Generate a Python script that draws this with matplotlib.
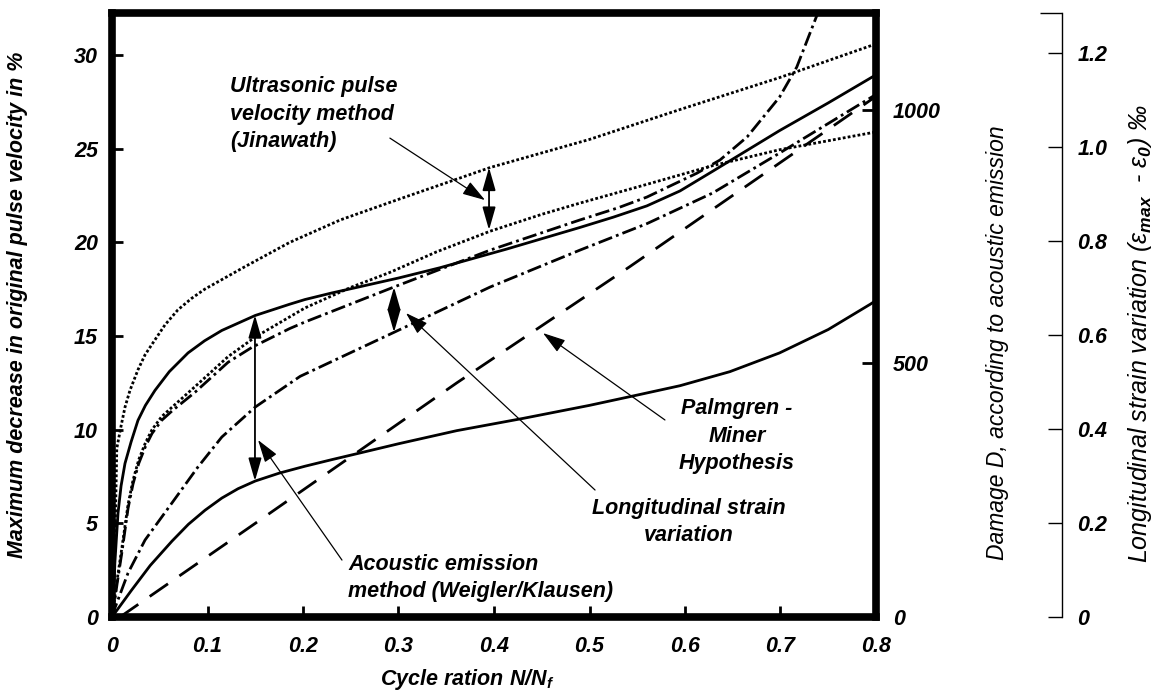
import matplotlib
matplotlib.use('Agg')
import matplotlib.pyplot as plt

plt.rcParams['font.family'] = 'Liberation Sans'
plt.rcParams['font.weight'] = 'bold'
plt.rcParams['font.style'] = 'italic'
plt.rcParams['axes.labelweight'] = 'bold'
plt.rcParams['mathtext.fontset'] = 'custom'
plt.rcParams['mathtext.rm'] = 'Liberation Sans:italic'
plt.rcParams['mathtext.it'] = 'Liberation Sans:italic'
plt.rcParams['mathtext.bf'] = 'Liberation Sans:italic:bold'

# ultrasonic pulse velocity (Jinawath), upper and lower bound, % decrease
us_hi_x = [0, 0.001, 0.003, 0.005, 0.0095, 0.0136, 0.0188, 0.0272, 0.0346, 0.045, 0.0555,
           0.069, 0.083, 0.097, 0.139, 0.186, 0.239, 0.30, 0.396, 0.50, 0.595, 0.699, 0.80]
us_hi_y = [0, 0.2, 3.7, 9.0, 10.2, 11.2, 12.1, 13.2, 14.0, 14.8, 15.6,
           16.4, 17.0, 17.5, 18.7, 20.0, 21.2, 22.3, 24.0, 25.5, 27.1, 28.8, 30.6]
us_lo_x = [0, 0.002, 0.006, 0.0105, 0.0168, 0.022, 0.028, 0.035, 0.0419, 0.052, 0.0628, 0.0869,
           0.1215, 0.150, 0.202, 0.25, 0.291, 0.34, 0.396, 0.45, 0.49, 0.56, 0.629, 0.699, 0.80]
us_lo_y = [0, 0.7, 2.2, 3.74, 6.0, 7.3, 8.4, 9.3, 10.0, 10.7, 11.2, 12.3,
           13.9, 14.95, 16.5, 17.6, 18.4, 19.5, 20.6, 21.5, 22.1, 23.1, 24.1, 24.95, 25.9]

# acoustic emission (Weigler/Klausen), upper and lower bound
ae_hi_x = [0, 0.001, 0.003, 0.0063, 0.0095, 0.0136, 0.020, 0.0272, 0.035, 0.045, 0.060, 0.0796,
           0.097, 0.115, 0.150, 0.186, 0.202, 0.23, 0.2565, 0.30, 0.3435, 0.4136, 0.490, 0.525,
           0.56, 0.5948, 0.629, 0.699, 0.75, 0.80]
ae_hi_y = [0, 0.2, 2.9, 5.55, 7.0, 8.2, 9.35, 10.5, 11.3, 12.1, 13.1, 14.1,
           14.75, 15.3, 16.1, 16.7, 16.95, 17.3, 17.6, 18.1, 18.65, 19.65, 20.8, 21.35,
           21.95, 22.75, 23.8, 25.97, 27.45, 28.95]
ae_lo_x = [0, 0.02, 0.04, 0.0628, 0.08, 0.0974, 0.115, 0.132, 0.150, 0.175, 0.202, 0.23,
           0.2565, 0.30, 0.361, 0.43, 0.50, 0.55, 0.5948, 0.647, 0.699, 0.75, 0.794, 0.80]
ae_lo_y = [0, 1.4, 2.75, 4.05, 4.95, 5.7, 6.35, 6.85, 7.26, 7.68, 8.05, 8.4,
           8.72, 9.25, 9.95, 10.6, 11.3, 11.85, 12.35, 13.1, 14.1, 15.35, 16.7, 16.9]

# longitudinal strain variation, upper and lower bound
st_hi_x = [0, 0.002, 0.006, 0.0105, 0.0168, 0.022, 0.028, 0.035, 0.0419, 0.052, 0.0628, 0.0869,
           0.1215, 0.1466, 0.186, 0.202, 0.2953, 0.396, 0.490, 0.53, 0.560, 0.6126, 0.6366,
           0.665, 0.699, 0.717, 0.741]
st_hi_y = [0, 0.6, 2.0, 3.5, 5.8, 7.1, 8.2, 9.1, 9.8, 10.5, 11.0, 12.0,
           13.6, 14.4, 15.4, 15.75, 17.62, 19.59, 21.2, 21.85, 22.42, 23.7, 24.4,
           25.63, 27.76, 29.36, 32.5]
st_lo_x = [0, 0.001, 0.0168, 0.0346, 0.0628, 0.090, 0.115, 0.150, 0.197, 0.2953, 0.396,
           0.490, 0.560, 0.629, 0.699, 0.80]
st_lo_y = [0, 0.2, 2.35, 4.11, 6.09, 8.01, 9.61, 11.21, 12.85, 15.2, 17.62,
           19.59, 21.0, 22.64, 24.77, 27.9]

# Palmgren-Miner linear damage
pm_x = [0.0084, 0.150, 0.361, 0.542, 0.80]
pm_y = [0, 5.0, 12.5, 18.7, 27.8]

x_ticks = [0, 0.1, 0.2, 0.3, 0.4, 0.5, 0.6, 0.7, 0.8]
x_labels = ['0', '0.1', '0.2', '0.3', '0.4', '0.5', '0.6', '0.7', '0.8']
v_ticks = [0, 5, 10, 15, 20, 25, 30]
d_ticks = [0, 500, 1000]
e_ticks = [0, 0.2, 0.4, 0.6, 0.8, 1.0, 1.2]
e_labels = ['0', '0.2', '0.4', '0.6', '0.8', '1.0', '1.2']

fig = plt.figure(figsize=(11.55, 6.94), dpi=100)
ax = fig.add_axes([112 / 1155, 77 / 694, 764 / 1155, 604 / 694])
ax.set_xlim(0, 0.8)
ax.set_ylim(0, 32.25)

lw = 2.0
dot = (0, (1, 0.8))
dashdot = (0, (5.2, 1.5, 1.0, 1.5))
dashed = (0, (8, 5))

ax.plot(us_hi_x, us_hi_y, color='k', lw=lw, linestyle=dot)
ax.plot(us_lo_x, us_lo_y, color='k', lw=lw, linestyle=dot)
ax.plot(ae_hi_x, ae_hi_y, color='k', lw=lw)
ax.plot(ae_lo_x, ae_lo_y, color='k', lw=lw)
ax.plot(st_hi_x, st_hi_y, color='k', lw=lw, linestyle=dashdot)
ax.plot(st_lo_x, st_lo_y, color='k', lw=lw, linestyle=dashdot)
ax.plot(pm_x, pm_y, color='k', lw=lw, linestyle=dashed)

# scatter band arrows between the bounds
band = dict(arrowstyle='<|-|>,head_length=0.7,head_width=0.2', lw=1.3, color='k',
            shrinkA=0, shrinkB=0, mutation_scale=20)
ax.annotate('', xy=(0.3948, 24.0), xytext=(0.3948, 20.66), arrowprops=band)
ax.annotate('', xy=(0.2953, 17.62), xytext=(0.2953, 15.2), arrowprops=band)
ax.annotate('', xy=(0.1497, 16.12), xytext=(0.1497, 7.26), arrowprops=band)

ptr = dict(arrowstyle='-|>,head_length=0.7,head_width=0.22', lw=0.9, color='k',
           shrinkA=0, shrinkB=0, mutation_scale=20)
ax.annotate('', xy=(0.3906, 22.26), xytext=(0.291, 25.57), arrowprops=ptr)
ax.annotate('', xy=(0.3078, 16.23), xytext=(0.5058, 6.78), arrowprops=ptr)
ax.annotate('', xy=(0.4513, 15.16), xytext=(0.579, 10.52), arrowprops=ptr)
ax.annotate('', xy=(0.1529, 9.45), xytext=(0.2408, 3.04), arrowprops=ptr)

fs = 15.5
ax.text(0.1236, 26.85, 'Ultrasonic pulse\nvelocity method\n(Jinawath)', fontsize=fs,
        ha='left', va='center', linespacing=1.42)
ax.text(0.6545, 9.66, 'Palmgren -\nMiner\nHypothesis', fontsize=fs,
        ha='center', va='center', multialignment='center', linespacing=1.42)
ax.text(0.604, 5.07, 'Longitudinal strain\nvariation', fontsize=fs,
        ha='center', va='center', multialignment='center', linespacing=1.42)
ax.text(0.2475, 2.08, 'Acoustic emission\nmethod (Weigler/Klausen)', fontsize=fs,
        ha='left', va='center', linespacing=1.42)

for side in ['left', 'right', 'top', 'bottom']:
    ax.spines[side].set_linewidth(5.5)
ax.set_xticks(x_ticks, x_labels)
ax.set_yticks(v_ticks)
ax.tick_params(axis='both', direction='in', length=8, width=2, labelsize=fs)
ax.tick_params(axis='x', pad=14)
ax.tick_params(axis='y', pad=10)

ax.set_xlabel(r'Cycle ration N/N$_\mathbf{f}$', fontsize=fs)
ax.xaxis.set_label_coords(0.4647, -0.104)
ax.xaxis.label.set_va('center')
ax.set_ylabel('Maximum decrease in original pulse velocity in %', fontsize=fs)
ax.yaxis.set_label_coords(-0.1243, 0.5166)
ax.yaxis.label.set_va('center')

# damage axis on the frame's right edge
ax2 = ax.twinx()
ax2.set_ylim(0, 1191)
ax2.set_yticks(d_ticks)
for side in ['left', 'right', 'top', 'bottom']:
    ax2.spines[side].set_visible(False)
ax2.tick_params(axis='y', direction='in', length=10, width=2, labelsize=fs, pad=12)
ax2.set_ylabel('Damage D, according to acoustic emission', fontsize=16.5, fontweight='normal')
ax2.yaxis.set_label_coords(1.1584, 0.4536)
ax2.yaxis.label.set(va='center', rotation=90)

# strain axis, detached to the right
ax3 = ax.twinx()
ax3.set_ylim(0, 1.285)
for side in ['left', 'top', 'bottom']:
    ax3.spines[side].set_visible(False)
ax3.spines['right'].set_position(('axes', 1.2435))
ax3.spines['right'].set_linewidth(1)
ax3.set_yticks(e_ticks, e_labels)
ax3.set_yticks([0, 1.285], minor=True)
ax3.tick_params(axis='y', which='major', direction='in', length=10, width=1, labelsize=fs, pad=11)
ax3.tick_params(axis='y', which='minor', direction='in', length=16, width=1)
ax3.set_ylabel('Longitudinal strain variation (ε$_{max}$  - ε$_0$) ‰', fontsize=18,
               fontweight='normal')
ax3.yaxis.set_label_coords(1.3455, 0.470)
ax3.yaxis.label.set(va='center', rotation=90)

fig.savefig('out.png', dpi=100)
